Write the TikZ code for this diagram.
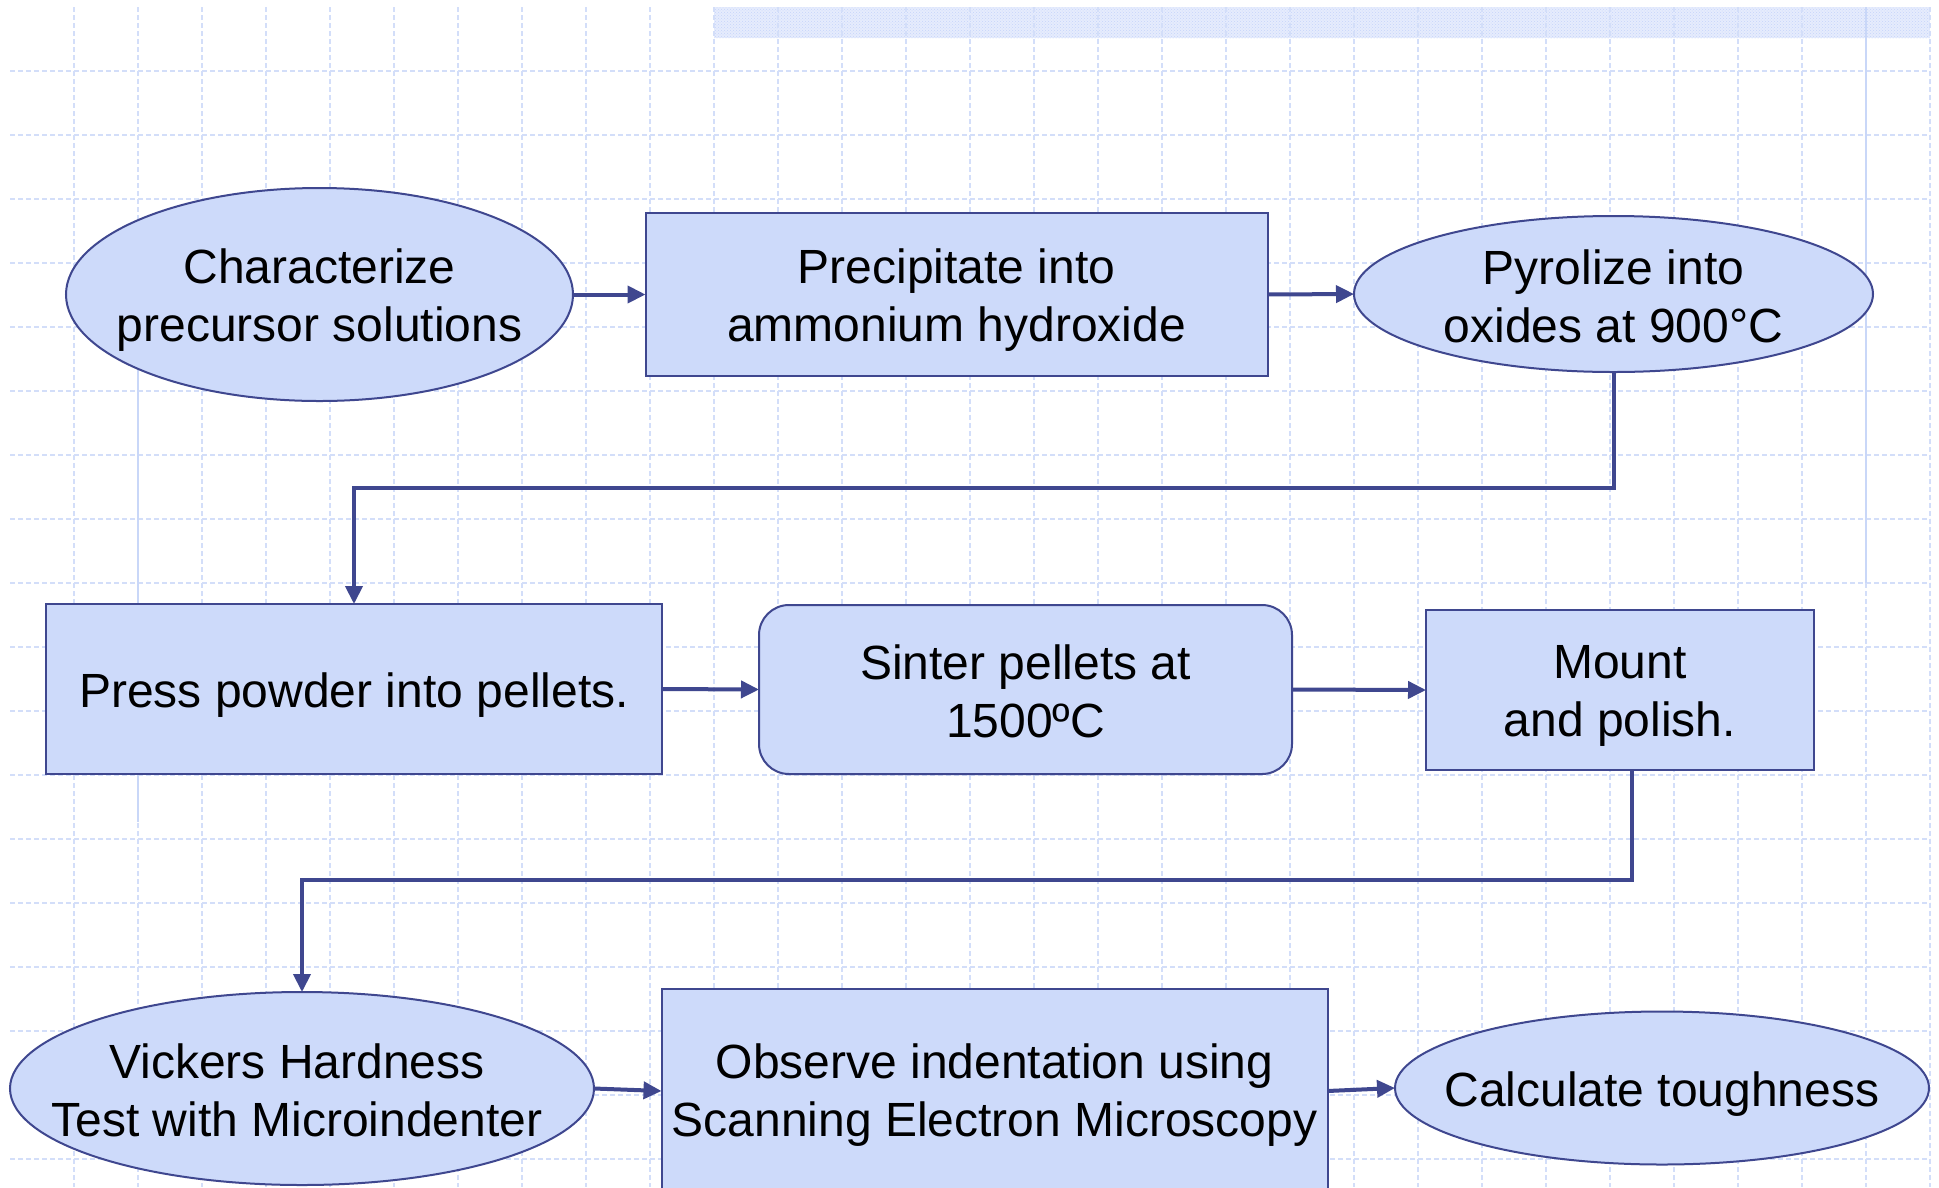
\documentclass[tikz,border=0pt]{standalone}
\usepackage{fontspec}
\setmainfont{Liberation Sans}
\usetikzlibrary{shapes.geometric,arrows.meta,patterns}
\definecolor{nodefill}{HTML}{CDDAFA}
\definecolor{nodeline}{HTML}{3F478F}
\definecolor{gridc}{HTML}{D3DEF9}
\definecolor{solidc}{HTML}{C9D7F8}
\definecolor{bandc}{HTML}{E6ECFD}
\definecolor{bandp}{HTML}{C6D4FA}
\tikzset{
  base/.style={draw=nodeline, line width=2pt, fill=nodefill, inner sep=0pt, outer sep=0pt},
  ell/.style={base, ellipse},
  box/.style={base, rectangle},
  rbox/.style={base, rectangle, rounded corners=30pt},
  every label/.style={font=\fontsize{48}{58}\selectfont, align=center, text=black, inner sep=0pt, yshift=-6pt},
  conn/.style={draw=nodeline, line width=4pt, -{Triangle[length=18pt,width=17pt]}},
  gridline/.style={draw=gridc, line width=1.1pt, dash pattern=on 5pt off 3pt},
  solidline/.style={draw=solidc, line width=2.5pt}
}
\begin{document}
\begin{tikzpicture}[x=1pt,y=-1pt]
\clip (0,0) rectangle (1939,1187);
\fill[white] (0,0) rectangle (1939,1187);
% banner
\fill[bandc] (714,7) rectangle (1930,38);
\fill[pattern=crosshatch dots, pattern color=bandp] (714,7) rectangle (1930,38);
% grid
\foreach \i in {0,...,29} {
  \draw[gridline] (74+64*\i,7) -- (74+64*\i,1187);
}
\foreach \j in {0,...,17} {
  \draw[gridline] (10,71+64*\j) -- (1930,71+64*\j);
}
\draw[solidline] (138,300) -- (138,822);
\draw[solidline] (1866,7) -- (1866,583);
% nodes
\node[ell, minimum width=507pt, minimum height=213pt,
  label={center:{Characterize\\precursor solutions}}] (n1) at (319.5,294.5) {};
\node[box, minimum width=622pt, minimum height=163pt,
  label={center:{Precipitate into\\ammonium hydroxide}}] (n2) at (956.5,294.5) {};
\node[ell, minimum width=519pt, minimum height=156pt,
  label={[yshift=4pt]center:{Pyrolize into\\oxides at 900°C}}] (n3) at (1613.5,294) {};
\node[box, minimum width=616pt, minimum height=170pt,
  label={center:{Press powder into pellets.}}] (n4) at (354,689) {};
\node[rbox, minimum width=533pt, minimum height=169pt,
  label={[yshift=4pt]center:{Sinter pellets at\\1500ºC}}] (n5) at (1025.5,689.5) {};
\node[box, minimum width=388pt, minimum height=160pt,
  label={center:{Mount\\and polish.}}] (n6) at (1620,690) {};
\node[ell, minimum width=584pt, minimum height=193pt,
  label={[yshift=4pt, xshift=-5pt]center:{Vickers Hardness\\Test with Microindenter}}] (n7) at (302,1088.5) {};
\node[box, minimum width=666pt, minimum height=204pt,
  label={[yshift=2pt]center:{Observe indentation using\\Scanning Electron Microscopy}}] (n8) at (994.5,1091) {};
\node[ell, minimum width=534pt, minimum height=153pt,
  label={center:{Calculate toughness}}] (n9) at (1662,1088) {};
% connectors
\coordinate (j34) at (1613.5,488);
\coordinate (j67) at (1632,880);
\draw[conn] (n1.east) -- (n2.west);
\draw[conn] (n2.east) -- (n3.west);
\draw[conn] (n3.south) -- (j34) -| (n4.north);
\draw[conn] (n4.east) -- (n5.west);
\draw[conn] (n5.east) -- (n6.west);
\draw[conn] (n6.south -| j67) -- (j67) -| (n7.north);
\draw[conn] (n7.east) -- (n8.west);
\draw[conn] (n8.east) -- (n9.west);
\end{tikzpicture}
\end{document}
